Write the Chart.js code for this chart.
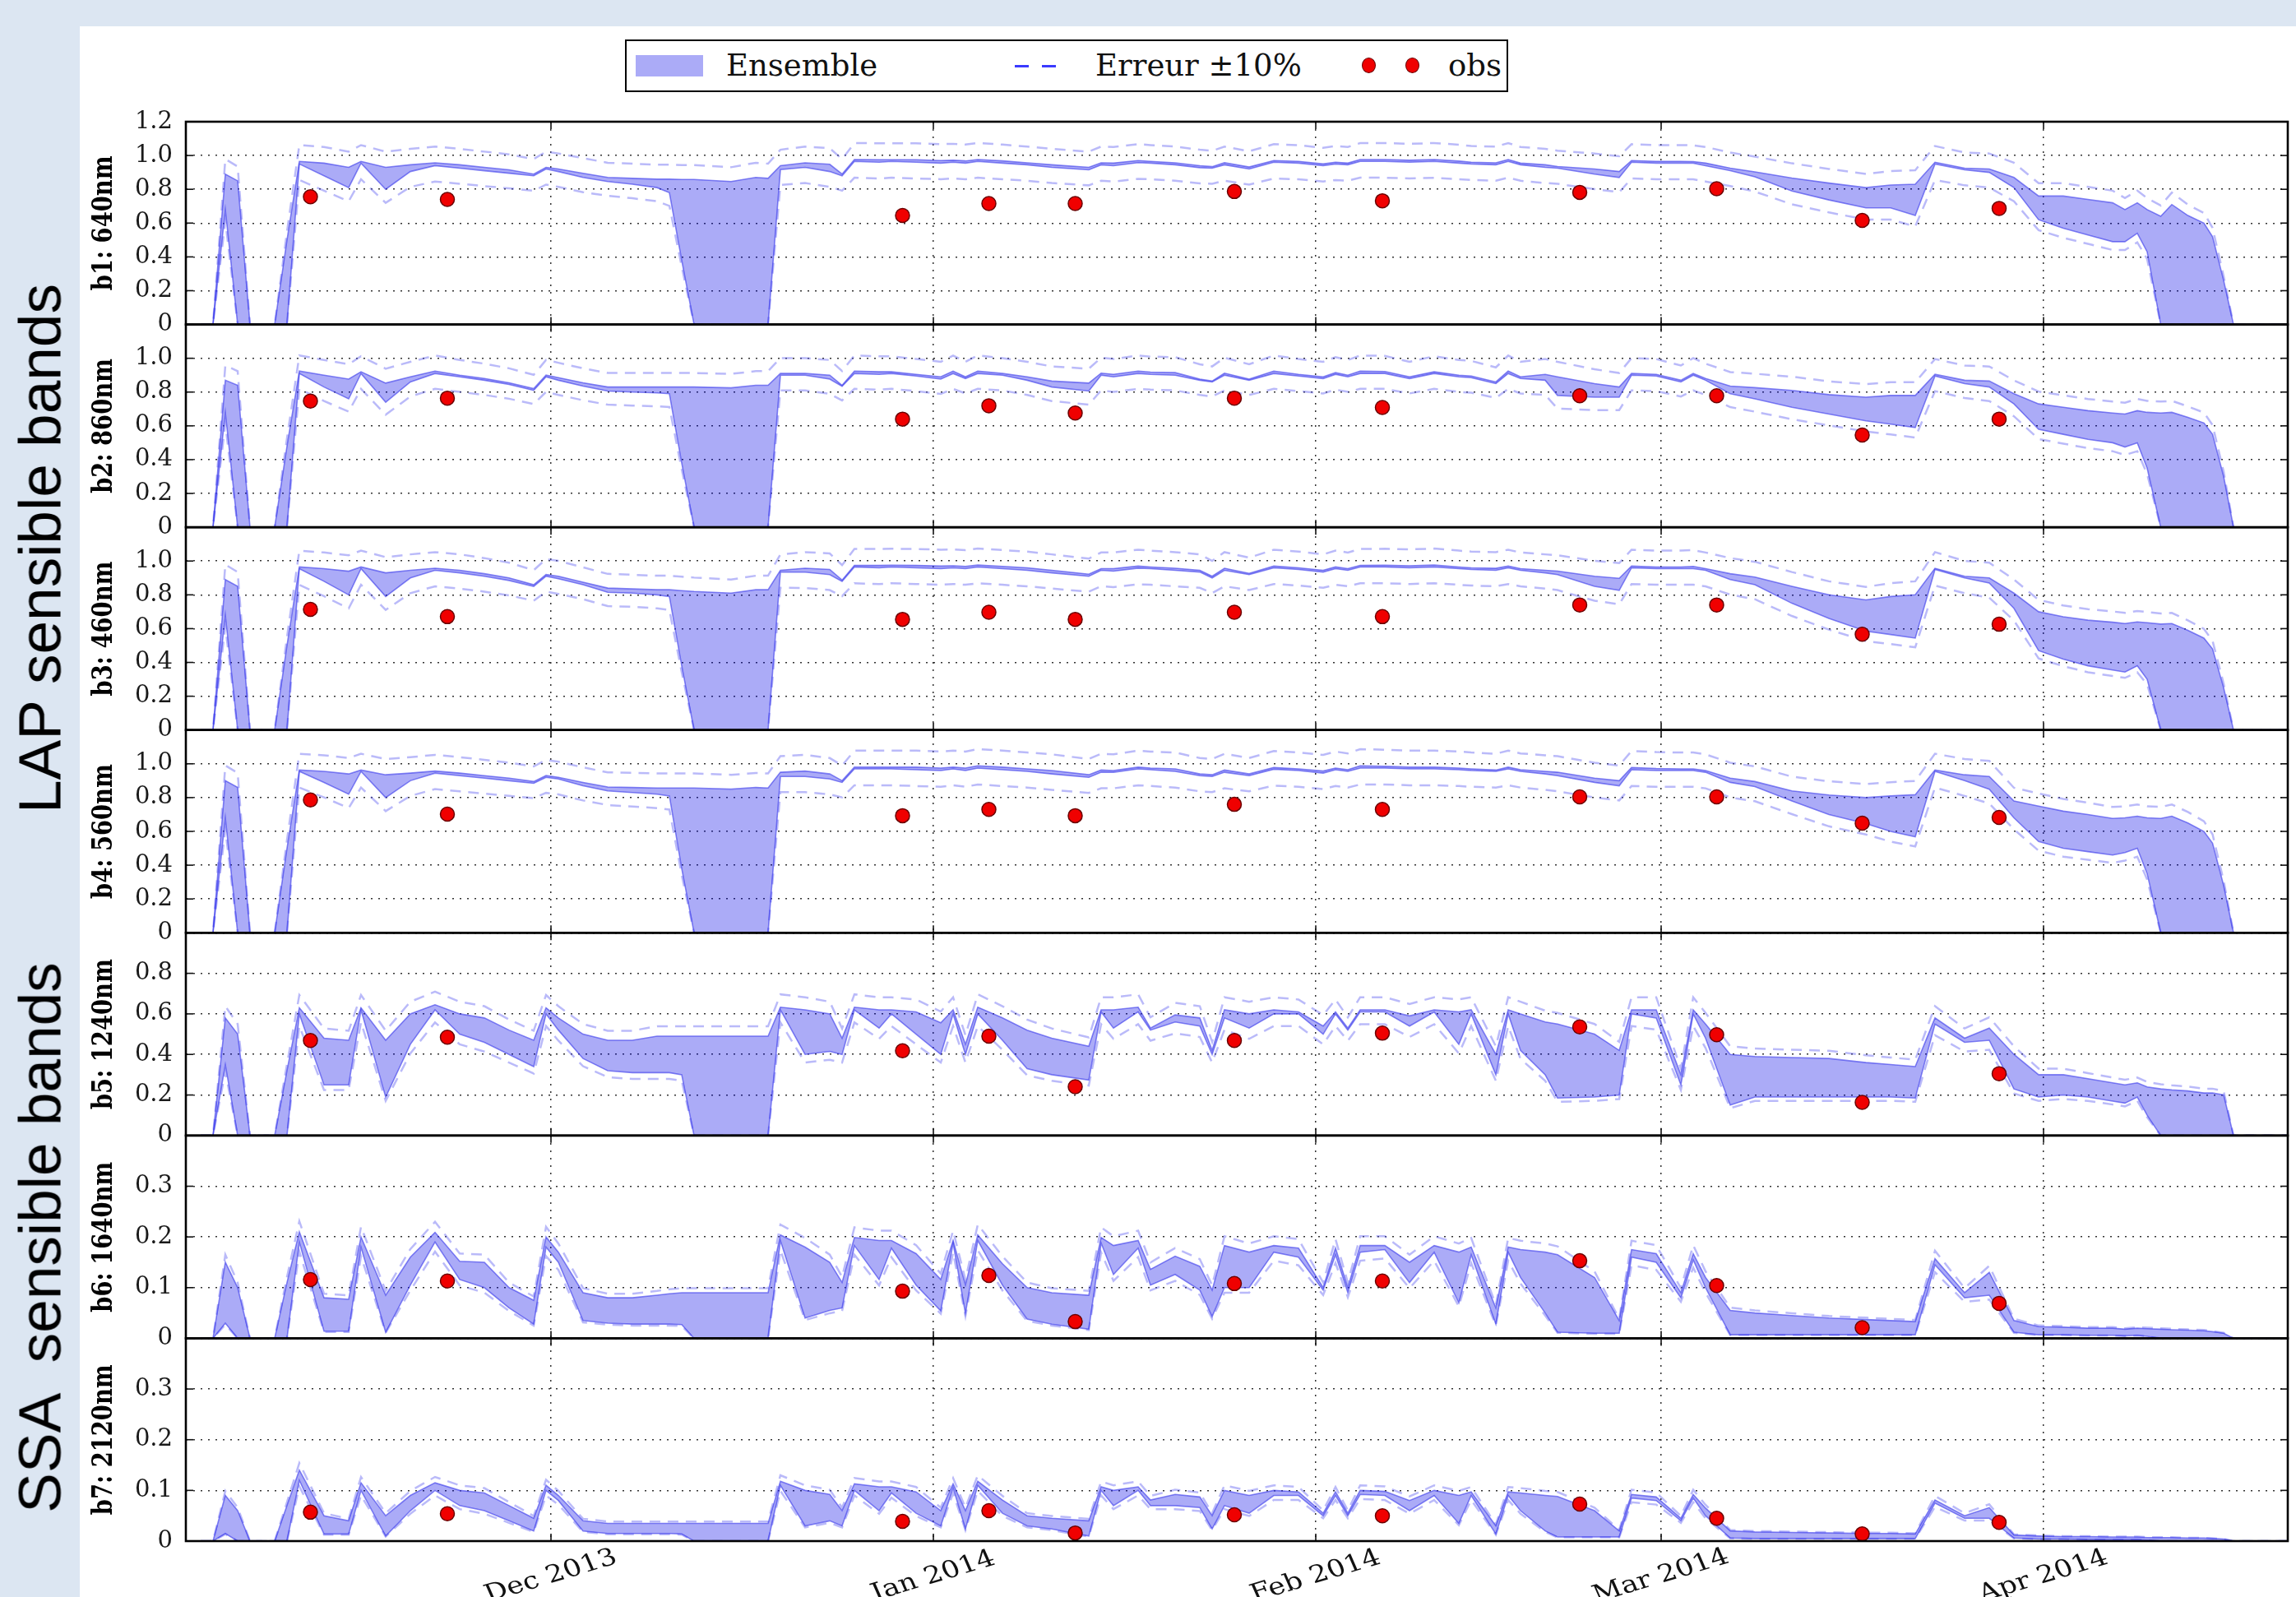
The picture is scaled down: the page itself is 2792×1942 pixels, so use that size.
<!DOCTYPE html>
<html>
<head>
<meta charset="utf-8">
<script src="https://cdn.jsdelivr.net/npm/chart.js@4.4.1/dist/chart.umd.min.js"></script>
<style>
  html, body { margin: 0; padding: 0; }
  body { width: 2792px; height: 1942px; background: #dce6f2; position: relative; overflow: hidden; }
  #sheet { position: absolute; left: 97px; top: 32px; right: 0; bottom: 0; background: #ffffff; }
  #plot { position: absolute; left: 0; top: 0; }
  .side { position: absolute; font-family: 'Liberation Sans', Arial, sans-serif; font-size: 73px; color: #000;
          white-space: pre; transform: translate(-50%, -50%) rotate(-90deg); line-height: 1; }
  #legend { position: absolute; left: 760px; top: 48px; width: 1070px; height: 60px; border: 2px solid #000;
            background: #fff; font-family: 'DejaVu Serif', serif; font-size: 37px; color: #111; }
  #legend .t { position: absolute; top: 0; line-height: 60px; white-space: pre; }
  #legend .patch { position: absolute; left: 11px; top: 17px; width: 82px; height: 26px; background: rgb(171,171,247); }
  #legend .dash { position: absolute; top: 29px; width: 17px; height: 3px; background: #3a3aff; }
  #legend .dot { position: absolute; top: 20px; width: 17px; height: 19px; border-radius: 50%; background: #f00000;
                 box-sizing: border-box; border: 1.5px solid #6a0000; }
</style>
</head>
<body>
<div id="sheet"></div>
<canvas id="plot" width="2792" height="1942"></canvas>
<div class="side" style="left:48px; top:667px;">LAP sensible bands</div>
<div class="side" style="left:48px; top:1505px;">SSA  sensible bands</div>
<div id="legend">
  <span class="patch"></span>
  <span class="t" style="left:121px;">Ensemble</span>
  <span class="dash" style="left:472px;"></span><span class="dash" style="left:505px;"></span>
  <span class="t" style="left:570px;">Erreur ±10%</span>
  <span class="dot" style="left:894px;"></span><span class="dot" style="left:947px;"></span>
  <span class="t" style="left:999px;">obs</span>
</div>
<script>
// Time axis: days counted from 1 Nov 2013 (day 0).
const days = [1.6, 2.6, 3.6, 4.6, 5.6, 7.6, 8.6, 9.6, 11.6, 13.6,
  14.6, 16.6, 18.6, 20.6, 22.6, 24.6, 26.6, 28.6, 29.6, 30.6,
  32.6, 34.6, 36.6, 38.6, 39.6, 40.6, 41.6, 44.6, 46.6, 47.6,
  48.6, 50.6, 52.6, 53.6, 54.6, 56.6, 57.6, 59.6, 61.6, 62.6,
  63.6, 64.6, 66.6, 68.6, 70.6, 73.6, 74.6, 75.6, 77.6, 78.6,
  80.6, 82.6, 83.6, 84.6, 86.6, 88.6, 90.6, 92.6, 93.6, 94.6,
  95.6, 97.6, 99.6, 101.6, 103.6, 104.6, 106.6, 107.6, 108.6, 110.6,
  111.6, 114.6, 116.6, 117.6, 119.6, 121.6, 122.6, 123.6, 125.6, 127.6,
  130.6, 133.6, 136.6, 138.6, 140.6, 142.2, 144.6, 146.6, 148.6, 150.6,
  152.6, 154.6, 156.6, 157.6, 158.6, 159.4, 160.5, 161.4, 162.7, 164.0,
  164.7, 165.6, 166.4, 170.8];

const monthTicks = [30, 61, 92, 120, 151];
const monthLabels = ['Dec 2013', 'Jan 2014', 'Feb 2014', 'Mar 2014', 'Apr 2014'];

// Ensemble envelope (min / max of members) per band
const b1Lower = [0, 0, 0.68, 0, 0, 0, 0, 0.95, 0.88, 0.81,
  0.955, 0.80, 0.905, 0.94, 0.925, 0.91, 0.895, 0.88, 0.92, 0.905,
  0.87, 0.846, 0.83, 0.81, 0.78, 0.38, 0, 0, 0, 0,
  0.917, 0.93, 0.905, 0.88, 0.965, 0.96, 0.965, 0.96, 0.955, 0.96,
  0.955, 0.965, 0.955, 0.945, 0.93, 0.915, 0.945, 0.94, 0.958, 0.955,
  0.945, 0.928, 0.925, 0.945, 0.92, 0.96, 0.955, 0.94, 0.95, 0.945,
  0.965, 0.965, 0.96, 0.965, 0.955, 0.95, 0.945, 0.965, 0.945, 0.93,
  0.925, 0.89, 0.87, 0.96, 0.955, 0.955, 0.955, 0.94, 0.91, 0.874,
  0.79, 0.737, 0.69, 0.69, 0.645, 0.95, 0.915, 0.90, 0.81, 0.62,
  0.57, 0.53, 0.49, 0.49, 0.54, 0.43, 0, 0, 0, 0,
  0, 0, 0, 0];
const b1Upper = [0, 0, 0.89, 0.85, 0, 0, 0.5, 0.965, 0.955, 0.93,
  0.965, 0.93, 0.945, 0.957, 0.945, 0.93, 0.915, 0.89, 0.93, 0.92,
  0.895, 0.87, 0.865, 0.86, 0.86, 0.858, 0.858, 0.846, 0.87, 0.865,
  0.94, 0.957, 0.948, 0.89, 0.976, 0.975, 0.975, 0.975, 0.97, 0.972,
  0.968, 0.976, 0.968, 0.957, 0.945, 0.93, 0.957, 0.955, 0.97, 0.965,
  0.957, 0.94, 0.934, 0.957, 0.932, 0.97, 0.965, 0.95, 0.96, 0.955,
  0.976, 0.976, 0.972, 0.976, 0.967, 0.96, 0.957, 0.976, 0.955, 0.945,
  0.935, 0.92, 0.905, 0.97, 0.965, 0.965, 0.964, 0.955, 0.925, 0.903,
  0.867, 0.837, 0.81, 0.825, 0.83, 0.96, 0.925, 0.92, 0.87, 0.76,
  0.76, 0.74, 0.72, 0.68, 0.72, 0.68, 0.64, 0.71, 0.645, 0.60,
  0.52, 0.26, 0, 0];

const b2Lower = [0, 0, 0.68, 0, 0, 0, 0, 0.91, 0.83, 0.76,
  0.91, 0.74, 0.86, 0.91, 0.89, 0.87, 0.845, 0.81, 0.89, 0.87,
  0.835, 0.806, 0.80, 0.795, 0.79, 0.38, 0, 0, 0, 0,
  0.90, 0.90, 0.877, 0.834, 0.91, 0.905, 0.91, 0.895, 0.877, 0.91,
  0.88, 0.91, 0.90, 0.87, 0.83, 0.806, 0.90, 0.89, 0.91, 0.905,
  0.90, 0.87, 0.86, 0.90, 0.87, 0.91, 0.895, 0.88, 0.905, 0.89,
  0.91, 0.91, 0.88, 0.91, 0.89, 0.885, 0.85, 0.91, 0.88, 0.87,
  0.78, 0.77, 0.77, 0.90, 0.895, 0.86, 0.90, 0.87, 0.79, 0.76,
  0.71, 0.67, 0.63, 0.61, 0.59, 0.895, 0.85, 0.83, 0.73, 0.58,
  0.55, 0.52, 0.50, 0.475, 0.50, 0.35, 0, 0, 0, 0,
  0, 0, 0, 0];
const b2Upper = [0, 0, 0.87, 0.84, 0, 0, 0.48, 0.924, 0.90, 0.877,
  0.92, 0.853, 0.89, 0.924, 0.90, 0.88, 0.855, 0.82, 0.90, 0.885,
  0.855, 0.83, 0.83, 0.83, 0.83, 0.83, 0.83, 0.825, 0.84, 0.84,
  0.91, 0.91, 0.90, 0.84, 0.924, 0.92, 0.92, 0.905, 0.89, 0.924,
  0.89, 0.924, 0.91, 0.89, 0.865, 0.853, 0.912, 0.905, 0.924, 0.918,
  0.915, 0.877, 0.865, 0.912, 0.877, 0.924, 0.905, 0.89, 0.915, 0.90,
  0.924, 0.922, 0.89, 0.92, 0.90, 0.895, 0.86, 0.924, 0.89, 0.905,
  0.89, 0.85, 0.83, 0.91, 0.905, 0.87, 0.91, 0.88, 0.835, 0.826,
  0.81, 0.785, 0.77, 0.78, 0.78, 0.905, 0.87, 0.865, 0.79, 0.73,
  0.71, 0.69, 0.676, 0.67, 0.69, 0.68, 0.676, 0.68, 0.65, 0.617,
  0.55, 0.30, 0, 0];

const b3Lower = [0, 0, 0.68, 0, 0, 0, 0, 0.955, 0.88, 0.80,
  0.955, 0.79, 0.90, 0.945, 0.93, 0.91, 0.885, 0.85, 0.91, 0.895,
  0.86, 0.815, 0.81, 0.80, 0.79, 0.38, 0, 0, 0, 0,
  0.935, 0.934, 0.92, 0.88, 0.965, 0.96, 0.965, 0.96, 0.955, 0.96,
  0.955, 0.965, 0.955, 0.945, 0.93, 0.91, 0.945, 0.94, 0.958, 0.955,
  0.945, 0.935, 0.90, 0.945, 0.92, 0.96, 0.95, 0.935, 0.955, 0.945,
  0.965, 0.965, 0.96, 0.965, 0.955, 0.95, 0.945, 0.96, 0.945, 0.93,
  0.92, 0.85, 0.827, 0.96, 0.955, 0.955, 0.955, 0.945, 0.89, 0.86,
  0.75, 0.66, 0.585, 0.565, 0.544, 0.95, 0.90, 0.87, 0.72, 0.47,
  0.42, 0.38, 0.355, 0.343, 0.38, 0.30, 0, 0, 0, 0,
  0, 0, 0, 0];
const b3Upper = [0, 0, 0.89, 0.85, 0, 0, 0.5, 0.965, 0.955, 0.94,
  0.965, 0.93, 0.945, 0.957, 0.945, 0.925, 0.90, 0.86, 0.92, 0.91,
  0.875, 0.84, 0.835, 0.83, 0.83, 0.825, 0.82, 0.81, 0.83, 0.83,
  0.945, 0.957, 0.95, 0.887, 0.974, 0.974, 0.975, 0.974, 0.97, 0.972,
  0.968, 0.976, 0.968, 0.96, 0.945, 0.922, 0.955, 0.955, 0.97, 0.965,
  0.957, 0.945, 0.91, 0.957, 0.927, 0.97, 0.96, 0.945, 0.965, 0.955,
  0.974, 0.975, 0.972, 0.976, 0.965, 0.96, 0.957, 0.97, 0.955, 0.945,
  0.94, 0.91, 0.898, 0.97, 0.965, 0.965, 0.968, 0.955, 0.925, 0.905,
  0.85, 0.80, 0.77, 0.79, 0.80, 0.957, 0.91, 0.90, 0.81, 0.70,
  0.67, 0.65, 0.638, 0.63, 0.64, 0.635, 0.627, 0.63, 0.59, 0.544,
  0.48, 0.25, 0, 0];

const b4Lower = [0, 0, 0.68, 0, 0, 0, 0, 0.955, 0.89, 0.82,
  0.955, 0.80, 0.90, 0.945, 0.93, 0.915, 0.90, 0.885, 0.92, 0.91,
  0.87, 0.84, 0.83, 0.82, 0.81, 0.38, 0, 0, 0, 0,
  0.925, 0.925, 0.91, 0.89, 0.97, 0.97, 0.97, 0.965, 0.96, 0.97,
  0.96, 0.975, 0.965, 0.955, 0.94, 0.92, 0.95, 0.95, 0.97, 0.965,
  0.955, 0.93, 0.925, 0.95, 0.93, 0.968, 0.96, 0.945, 0.965, 0.955,
  0.975, 0.975, 0.97, 0.97, 0.965, 0.96, 0.955, 0.97, 0.955, 0.94,
  0.93, 0.89, 0.87, 0.965, 0.96, 0.96, 0.96, 0.95, 0.89, 0.865,
  0.78, 0.70, 0.646, 0.60, 0.568, 0.955, 0.90, 0.85, 0.68, 0.54,
  0.50, 0.48, 0.46, 0.475, 0.50, 0.35, 0, 0, 0, 0,
  0, 0, 0, 0];
const b4Upper = [0, 0, 0.90, 0.86, 0, 0, 0.5, 0.963, 0.955, 0.94,
  0.963, 0.935, 0.945, 0.957, 0.945, 0.93, 0.915, 0.895, 0.93, 0.92,
  0.89, 0.863, 0.86, 0.857, 0.857, 0.857, 0.857, 0.85, 0.86, 0.857,
  0.95, 0.957, 0.94, 0.90, 0.98, 0.98, 0.98, 0.98, 0.975, 0.98,
  0.975, 0.988, 0.98, 0.97, 0.96, 0.935, 0.963, 0.96, 0.98, 0.975,
  0.97, 0.94, 0.935, 0.963, 0.94, 0.978, 0.97, 0.957, 0.975, 0.965,
  0.988, 0.985, 0.98, 0.98, 0.975, 0.97, 0.963, 0.98, 0.965, 0.955,
  0.95, 0.915, 0.90, 0.978, 0.972, 0.97, 0.97, 0.96, 0.915, 0.895,
  0.84, 0.815, 0.80, 0.81, 0.817, 0.963, 0.935, 0.925, 0.78, 0.75,
  0.72, 0.70, 0.677, 0.68, 0.69, 0.68, 0.677, 0.69, 0.65, 0.60,
  0.53, 0.28, 0, 0];

const b5Lower = [0, 0, 0.35, 0, 0, 0, 0, 0.60, 0.25, 0.25,
  0.62, 0.19, 0.45, 0.62, 0.50, 0.46, 0.40, 0.34, 0.60, 0.52,
  0.38, 0.32, 0.31, 0.31, 0.31, 0.30, 0, 0, 0, 0,
  0.62, 0.40, 0.415, 0.40, 0.62, 0.53, 0.60, 0.50, 0.40, 0.60,
  0.40, 0.60, 0.47, 0.33, 0.30, 0.274, 0.61, 0.53, 0.61, 0.52,
  0.56, 0.54, 0.40, 0.58, 0.53, 0.60, 0.60, 0.50, 0.60, 0.52,
  0.61, 0.61, 0.54, 0.61, 0.45, 0.60, 0.30, 0.60, 0.42, 0.30,
  0.185, 0.19, 0.20, 0.60, 0.58, 0.25, 0.60, 0.48, 0.15, 0.19,
  0.19, 0.19, 0.19, 0.19, 0.185, 0.55, 0.46, 0.47, 0.23, 0.19,
  0.20, 0.19, 0.17, 0.16, 0.19, 0.10, 0, 0, 0, 0,
  0, 0, 0, 0];
const b5Upper = [0, 0, 0.58, 0.50, 0, 0, 0.32, 0.63, 0.48, 0.47,
  0.63, 0.47, 0.60, 0.645, 0.60, 0.58, 0.52, 0.47, 0.63, 0.58,
  0.50, 0.47, 0.47, 0.49, 0.49, 0.49, 0.49, 0.49, 0.49, 0.49,
  0.633, 0.62, 0.60, 0.48, 0.633, 0.62, 0.62, 0.61, 0.556, 0.62,
  0.45, 0.633, 0.58, 0.52, 0.48, 0.44, 0.62, 0.62, 0.633, 0.53,
  0.595, 0.58, 0.42, 0.62, 0.60, 0.62, 0.61, 0.54, 0.61, 0.53,
  0.62, 0.62, 0.59, 0.62, 0.61, 0.62, 0.40, 0.62, 0.60, 0.56,
  0.55, 0.50, 0.42, 0.62, 0.62, 0.30, 0.62, 0.55, 0.40, 0.39,
  0.385, 0.38, 0.36, 0.35, 0.34, 0.58, 0.48, 0.53, 0.40, 0.30,
  0.30, 0.28, 0.26, 0.25, 0.26, 0.24, 0.23, 0.225, 0.22, 0.21,
  0.21, 0.20, 0, 0];

const b6Lower = [0, 0, 0.03, 0, 0, 0, 0, 0.19, 0.014, 0.014,
  0.18, 0.012, 0.105, 0.19, 0.116, 0.10, 0.06, 0.028, 0.18, 0.15,
  0.035, 0.03, 0.028, 0.028, 0.028, 0.027, 0, 0, 0, 0,
  0.193, 0.04, 0.055, 0.06, 0.183, 0.116, 0.178, 0.105, 0.054, 0.188,
  0.049, 0.193, 0.105, 0.038, 0.028, 0.018, 0.188, 0.126, 0.178, 0.105,
  0.126, 0.095, 0.043, 0.10, 0.10, 0.17, 0.16, 0.095, 0.165, 0.09,
  0.17, 0.175, 0.11, 0.17, 0.07, 0.165, 0.028, 0.17, 0.12, 0.05,
  0.012, 0.01, 0.01, 0.16, 0.15, 0.08, 0.155, 0.10, 0.007, 0.007,
  0.007, 0.007, 0.007, 0.007, 0.007, 0.145, 0.08, 0.085, 0.012, 0.007,
  0.007, 0.006, 0.006, 0.005, 0.006, 0.004, 0, 0, 0, 0,
  0, 0, 0, 0];
const b6Upper = [0, 0, 0.15, 0.10, 0, 0, 0.11, 0.21, 0.08, 0.077,
  0.20, 0.085, 0.16, 0.209, 0.152, 0.15, 0.10, 0.075, 0.20, 0.17,
  0.09, 0.08, 0.08, 0.085, 0.088, 0.09, 0.09, 0.09, 0.09, 0.09,
  0.204, 0.18, 0.15, 0.11, 0.199, 0.193, 0.193, 0.167, 0.116, 0.193,
  0.105, 0.204, 0.147, 0.10, 0.09, 0.085, 0.199, 0.183, 0.193, 0.136,
  0.162, 0.142, 0.095, 0.183, 0.17, 0.183, 0.178, 0.10, 0.178, 0.10,
  0.183, 0.183, 0.15, 0.183, 0.17, 0.18, 0.06, 0.18, 0.175, 0.17,
  0.165, 0.12, 0.035, 0.175, 0.167, 0.09, 0.167, 0.12, 0.055, 0.05,
  0.045, 0.04, 0.037, 0.035, 0.033, 0.157, 0.09, 0.13, 0.035, 0.023,
  0.022, 0.02, 0.02, 0.018, 0.02, 0.019, 0.018, 0.017, 0.016, 0.015,
  0.013, 0.01, 0, 0];

const b7Lower = [0, 0, 0.015, 0, 0, 0, 0, 0.12, 0.014, 0.014,
  0.10, 0.01, 0.06, 0.10, 0.07, 0.06, 0.04, 0.02, 0.10, 0.08,
  0.02, 0.015, 0.015, 0.015, 0.015, 0.014, 0, 0, 0, 0,
  0.11, 0.03, 0.04, 0.03, 0.10, 0.06, 0.095, 0.055, 0.03, 0.105,
  0.024, 0.11, 0.055, 0.03, 0.024, 0.01, 0.10, 0.07, 0.10, 0.07,
  0.07, 0.066, 0.024, 0.07, 0.055, 0.09, 0.09, 0.05, 0.09, 0.05,
  0.092, 0.09, 0.06, 0.09, 0.035, 0.09, 0.014, 0.09, 0.06, 0.02,
  0.008, 0.008, 0.008, 0.085, 0.08, 0.04, 0.085, 0.05, 0.006, 0.005,
  0.005, 0.005, 0.005, 0.005, 0.005, 0.075, 0.045, 0.045, 0.006, 0.004,
  0.004, 0.003, 0.003, 0.003, 0.003, 0.002, 0, 0, 0, 0,
  0, 0, 0, 0];
const b7Upper = [0, 0, 0.09, 0.06, 0, 0, 0.07, 0.14, 0.05, 0.04,
  0.115, 0.05, 0.09, 0.115, 0.10, 0.095, 0.07, 0.045, 0.11, 0.09,
  0.04, 0.035, 0.035, 0.035, 0.035, 0.035, 0.035, 0.035, 0.035, 0.035,
  0.118, 0.10, 0.092, 0.06, 0.113, 0.107, 0.107, 0.097, 0.06, 0.113,
  0.06, 0.118, 0.081, 0.05, 0.045, 0.04, 0.107, 0.10, 0.107, 0.081,
  0.092, 0.087, 0.05, 0.10, 0.09, 0.10, 0.097, 0.055, 0.097, 0.055,
  0.10, 0.098, 0.08, 0.10, 0.09, 0.097, 0.03, 0.097, 0.095, 0.09,
  0.088, 0.06, 0.02, 0.092, 0.087, 0.045, 0.092, 0.065, 0.02, 0.018,
  0.017, 0.016, 0.015, 0.015, 0.014, 0.081, 0.05, 0.066, 0.012, 0.01,
  0.009, 0.009, 0.008, 0.008, 0.008, 0.007, 0.007, 0.007, 0.006, 0.006,
  0.005, 0.004, 0, 0];

// Field observations
const obsDays = [10.5, 21.6, 58.5, 65.5, 72.5, 85.4, 97.4, 113.4, 124.5, 136.3, 147.4];
const b1Obs = [0.756, 0.74, 0.645, 0.716, 0.716, 0.787, 0.732, 0.782, 0.803, 0.616, 0.687];
const b2Obs = [0.747, 0.764, 0.64, 0.719, 0.676, 0.764, 0.709, 0.778, 0.778, 0.546, 0.64];
const b3Obs = [0.714, 0.671, 0.655, 0.697, 0.655, 0.697, 0.671, 0.74, 0.74, 0.567, 0.626];
const b4Obs = [0.786, 0.702, 0.693, 0.73, 0.693, 0.76, 0.73, 0.804, 0.804, 0.649, 0.683];
const b5Obs = [0.469, 0.485, 0.418, 0.49, 0.241, 0.469, 0.505, 0.536, 0.497, 0.164, 0.305];
const b6Obs = [0.116, 0.113, 0.093, 0.124, 0.033, 0.108, 0.113, 0.153, 0.104, 0.021, 0.069];
const b7Obs = [0.057, 0.054, 0.039, 0.06, 0.016, 0.052, 0.05, 0.073, 0.045, 0.014, 0.037];

// Relative error drawn around the ensemble envelope
const errorFrac = 0.10;

const panels = [
  { title: 'b1: 640nm',  max: 1.2, step: 0.2, showTop: true,  lower: b1Lower, upper: b1Upper, obs: b1Obs },
  { title: 'b2: 860nm',  max: 1.2, step: 0.2, showTop: false, lower: b2Lower, upper: b2Upper, obs: b2Obs },
  { title: 'b3: 460nm',  max: 1.2, step: 0.2, showTop: false, lower: b3Lower, upper: b3Upper, obs: b3Obs },
  { title: 'b4: 560nm',  max: 1.2, step: 0.2, showTop: false, lower: b4Lower, upper: b4Upper, obs: b4Obs },
  { title: 'b5: 1240nm', max: 1.0, step: 0.2, showTop: false, lower: b5Lower, upper: b5Upper, obs: b5Obs },
  { title: 'b6: 1640nm', max: 0.4, step: 0.1, showTop: false, lower: b6Lower, upper: b6Upper, obs: b6Obs },
  { title: 'b7: 2120nm', max: 0.4, step: 0.1, showTop: false, lower: b7Lower, upper: b7Upper, obs: b7Obs }
];

const FILL = 'rgba(0,0,230,0.33)';
const EDGE = 'rgba(60,60,235,0.62)';
const ERR = 'rgba(90,90,240,0.42)';
const GRID = '#333333';

const pts = (xs, ys) => xs.map((x, i) => ({ x: x, y: ys[i] }));

const datasets = [];
const scales = {
  x: {
    type: 'linear', min: 0.4, max: 170.8,
    afterBuildTicks: (s) => { s.ticks = monthTicks.map(v => ({ value: v })); },
    afterFit: (s) => { s.height = 68; },
    ticks: { display: false },
    grid: { color: GRID, lineWidth: 1.5, drawTicks: false },
    border: { display: false, dash: [2, 7] }
  }
};

panels.forEach((p, k) => {
  const yID = 'y' + k;
  scales[yID] = {
    type: 'linear', position: 'left', stack: 'bands', stackWeight: 1, weight: panels.length - k,
    min: 0, max: p.max,
    afterFit: (s) => { s.width = 226; },
    ticks: {
      stepSize: p.step, autoSkip: false, padding: 16, color: '#1a1a1a',
      font: { family: 'DejaVu Serif', size: 29 },
      callback: (v) => {
        if (Math.abs(v) < 1e-9) return '0';
        if (!p.showTop && Math.abs(v - p.max) < 1e-6) return null;
        return v.toFixed(1);
      }
    },
    grid: { color: GRID, lineWidth: 1.5, drawTicks: false },
    border: { display: false, dash: [2, 7] }
  };
  datasets.push({ type: 'line', label: 'Ensemble', data: pts(days, p.lower), yAxisID: yID,
    borderColor: EDGE, borderWidth: 1.6, pointRadius: 0, fill: false, tension: 0 });
  datasets.push({ type: 'line', label: 'Ensemble', data: pts(days, p.upper), yAxisID: yID,
    borderColor: EDGE, borderWidth: 1.6, pointRadius: 0, fill: '-1', backgroundColor: FILL, tension: 0 });
  datasets.push({ type: 'line', label: 'Erreur ±10%', data: pts(days, p.lower.map(v => v * (1 - errorFrac))), yAxisID: yID,
    borderColor: ERR, borderWidth: 2.5, borderDash: [13, 9], pointRadius: 0, fill: false, tension: 0 });
  datasets.push({ type: 'line', label: 'Erreur ±10%', data: pts(days, p.upper.map(v => v * (1 + errorFrac))), yAxisID: yID,
    borderColor: ERR, borderWidth: 2.5, borderDash: [13, 9], pointRadius: 0, fill: false, tension: 0 });
  datasets.push({ type: 'scatter', label: 'obs', data: pts(obsDays, p.obs), yAxisID: yID, order: -1,
    pointRadius: 8.5, pointBackgroundColor: '#f00000', pointBorderColor: '#6a0000', pointBorderWidth: 1.5,
    showLine: false, clip: false });
});

// Panel frames, inward tick marks, band titles and month labels
const decor = {
  id: 'decor',
  afterDraw(chart) {
    const ctx = chart.ctx;
    const area = chart.chartArea;
    const xs = chart.scales.x;
    const seg = (x1, y1, x2, y2) => { ctx.beginPath(); ctx.moveTo(x1, y1); ctx.lineTo(x2, y2); ctx.stroke(); };
    ctx.save();
    ctx.setLineDash([]);
    panels.forEach((p, k) => {
      const ys = chart.scales['y' + k];
      ctx.strokeStyle = '#111';
      ctx.lineWidth = 1.6;
      monthTicks.forEach(v => {
        const x = xs.getPixelForValue(v);
        seg(x, ys.bottom, x, ys.bottom - 9);
        seg(x, ys.top, x, ys.top + 9);
      });
      ys.ticks.forEach(t => {
        const y = ys.getPixelForValue(t.value);
        seg(area.left, y, area.left + 9, y);
        seg(area.right, y, area.right - 9, y);
      });
      ctx.strokeStyle = '#000';
      ctx.lineWidth = 2.6;
      ctx.strokeRect(area.left, ys.top, area.right - area.left, ys.bottom - ys.top);

      ctx.save();
      ctx.translate(127, (ys.top + ys.bottom) / 2);
      ctx.rotate(-Math.PI / 2);
      ctx.scale(0.83, 1);
      ctx.font = 'bold 33px "DejaVu Serif"';
      ctx.fillStyle = '#000';
      ctx.textAlign = 'center';
      ctx.textBaseline = 'middle';
      ctx.fillText(p.title, 0, 0);
      ctx.restore();
    });
    monthTicks.forEach((v, i) => {
      ctx.save();
      ctx.translate(xs.getPixelForValue(v), area.bottom + 43);
      ctx.scale(1, 0.83);
      ctx.rotate(-20 * Math.PI / 180);
      ctx.font = '35px "DejaVu Serif"';
      ctx.fillStyle = '#111';
      ctx.textAlign = 'center';
      ctx.textBaseline = 'middle';
      ctx.fillText(monthLabels[i], 0, 0);
      ctx.restore();
    });
    ctx.restore();
  }
};

new Chart(document.getElementById('plot'), {
  type: 'line',
  data: { datasets: datasets },
  options: {
    responsive: false,
    devicePixelRatio: 1,
    animation: false,
    layout: { padding: { top: 148, right: 4, bottom: 0, left: 0 } },
    plugins: { legend: { display: false }, tooltip: { enabled: false } },
    elements: { line: { borderJoinStyle: 'miter' } },
    scales: scales
  },
  plugins: [decor]
});
</script>
</body>
</html>
